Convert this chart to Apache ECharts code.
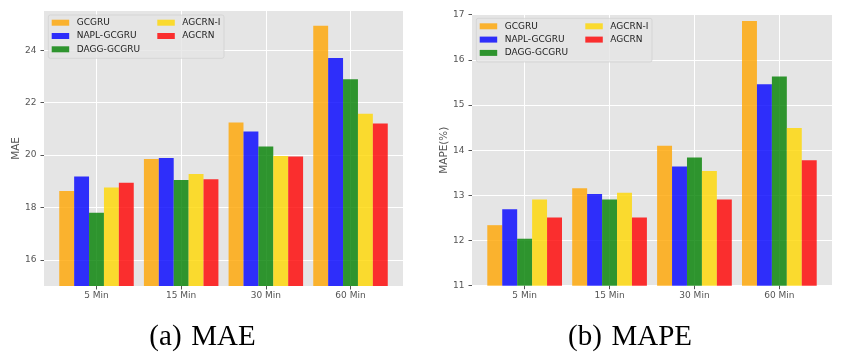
<!DOCTYPE html>
<html>
<head>
<meta charset="utf-8">
<style>
  html, body { margin: 0; padding: 0; background: #fff; }
  #main { width: 858px; height: 354px; }
</style>
<script src="https://cdn.jsdelivr.net/npm/echarts@6/dist/echarts.min.js"></script>
</head>
<body>
<div id="main"></div>
<script>
// horizons on the x axis
var categories = ['5 Min', '15 Min', '30 Min', '60 Min'];
var models = ['GCGRU', 'NAPL-GCGRU', 'DAGG-GCGRU', 'AGCRN-I', 'AGCRN'];
var colors = ['rgba(255,165,0,0.8)', 'rgba(0,0,255,0.8)', 'rgba(0,128,0,0.8)', 'rgba(255,215,0,0.8)', 'rgba(255,0,0,0.8)'];

// MAE
var maeGCGRU = [18.63, 19.85, 21.24, 24.94];
var maeNAPL = [19.18, 19.89, 20.90, 23.71];
var maeDAGG = [17.80, 19.05, 20.33, 22.89];
var maeAGCRNI = [18.76, 19.28, 19.96, 21.58];
var maeAGCRN = [18.94, 19.08, 19.94, 21.20];
var maeTicks = [16, 18, 20, 22, 24];

// MAPE (%)
var mapeGCGRU = [12.34, 13.16, 14.10, 16.86];
var mapeNAPL = [12.69, 13.03, 13.64, 15.46];
var mapeDAGG = [12.04, 12.91, 13.84, 15.63];
var mapeAGCRNI = [12.91, 13.06, 13.54, 14.49];
var mapeAGCRN = [12.51, 12.51, 12.91, 13.78];

var maeData = [maeGCGRU, maeNAPL, maeDAGG, maeAGCRNI, maeAGCRN];
var mapeData = [mapeGCGRU, mapeNAPL, mapeDAGG, mapeAGCRNI, mapeAGCRN];

// category positions (matplotlib puts groups at 0..3 with some margin)
var catPos = categories.map(function (c, i) { return i; });

var tickColor = '#555555';
var labelStyle = { color: '#555555', fontSize: 9, fontFamily: 'DejaVu Sans' };

function catAxis(grid) {
  return {
    gridIndex: grid,
    type: 'value',
    min: -0.62,
    max: 3.62,
    axisLine: { show: false, onZero: false },
    axisTick: { show: true, length: 3.5, customValues: catPos, lineStyle: { color: tickColor, width: 1 } },
    axisLabel: Object.assign({
      margin: 5, customValues: catPos,
      formatter: function (v) { return categories[Math.round(v)]; }
    }, labelStyle),
    splitLine: { show: true, lineStyle: { color: '#ffffff', width: 1 } }
  };
}

function legend(names, left, top) {
  return {
    data: names,
    orient: 'vertical',
    left: left,
    top: top,
    itemWidth: 17.5,
    itemHeight: 6,
    itemGap: 2.3,
    icon: 'rect',
    selectedMode: false,
    padding: 0,
    z: 6,
    textStyle: { color: '#222', fontSize: 9, fontFamily: 'DejaVu Sans', lineHeight: 11, padding: [0, 0, 0, 2.5] }
  };
}

function pairs(vals) {
  return vals.map(function (v, i) { return [catPos[i], v]; });
}

var series = [];
models.forEach(function (m, i) {
  series.push({
    name: m, type: 'bar', xAxisIndex: 0, yAxisIndex: 0,
    data: pairs(maeData[i]), barGap: '0%', barCategoryGap: '12%',
    itemStyle: { color: colors[i] }
  });
  series.push({
    name: m, type: 'bar', xAxisIndex: 1, yAxisIndex: 1,
    data: pairs(mapeData[i]), barGap: '0%', barCategoryGap: '12%',
    itemStyle: { color: colors[i] }
  });
});

var myChart = echarts.init(document.getElementById('main'));
myChart.setOption({
  animation: false,
  textStyle: { fontFamily: 'DejaVu Sans' },
  grid: [
    { left: 44, right: 455, top: 11, bottom: 68, show: true, backgroundColor: '#E5E5E5', borderWidth: 0 },
    { left: 472, right: 26, top: 14.7, bottom: 68.3, show: true, backgroundColor: '#E5E5E5', borderWidth: 0 }
  ],
  xAxis: [catAxis(0), catAxis(1)],
  yAxis: [
    {
      gridIndex: 0, type: 'value', min: 15, max: 25.5,
      name: 'MAE', nameLocation: 'middle', nameGap: 22,
      nameTextStyle: { color: '#555555', fontSize: 10.4, fontFamily: 'DejaVu Sans' },
      axisLine: { show: false, onZero: false },
      axisTick: { show: true, length: 3.5, customValues: maeTicks, lineStyle: { color: tickColor } },
      axisLabel: Object.assign({ margin: 7.5, customValues: maeTicks }, labelStyle),
      splitLine: { show: true, lineStyle: { color: '#ffffff', width: 1 } }
    },
    {
      gridIndex: 1, type: 'value', min: 11, max: 17, interval: 1,
      name: 'MAPE(%)', nameLocation: 'middle', nameGap: 22,
      nameTextStyle: { color: '#555555', fontSize: 10.4, fontFamily: 'DejaVu Sans' },
      axisLine: { show: false, onZero: false },
      axisTick: { show: true, length: 3.5, lineStyle: { color: tickColor } },
      axisLabel: Object.assign({ margin: 7.5 }, labelStyle),
      splitLine: { show: true, lineStyle: { color: '#ffffff', width: 1 } }
    }
  ],
  legend: [
    legend(models.slice(0, 3), 51.7, 17.2),
    legend(models.slice(3), 157.3, 17.2),
    legend(models.slice(0, 3), 479.7, 20.8),
    legend(models.slice(3), 585.3, 20.8)
  ],
  graphic: [
    { type: 'rect', z: 5, shape: { x: 48.3, y: 15, width: 175.7, height: 43.3, r: 2 },
      style: { fill: 'rgba(229,229,229,0.8)', stroke: 'rgba(204,204,204,0.8)', lineWidth: 0.8 } },
    { type: 'rect', z: 5, shape: { x: 476.3, y: 18.3, width: 175.7, height: 43.7, r: 2 },
      style: { fill: 'rgba(229,229,229,0.8)', stroke: 'rgba(204,204,204,0.8)', lineWidth: 0.8 } },
    { type: 'text', x: 202.5, y: 337.5,
      style: { text: '(a) \u200AMAE', fill: '#000', font: '29px "Liberation Serif"', textAlign: 'center', textVerticalAlign: 'middle' } },
    { type: 'text', x: 630, y: 337.5,
      style: { text: '(b) \u200AMAPE', fill: '#000', font: '29px "Liberation Serif"', textAlign: 'center', textVerticalAlign: 'middle' } }
  ],
  series: series
});
</script>
</body>
</html>
